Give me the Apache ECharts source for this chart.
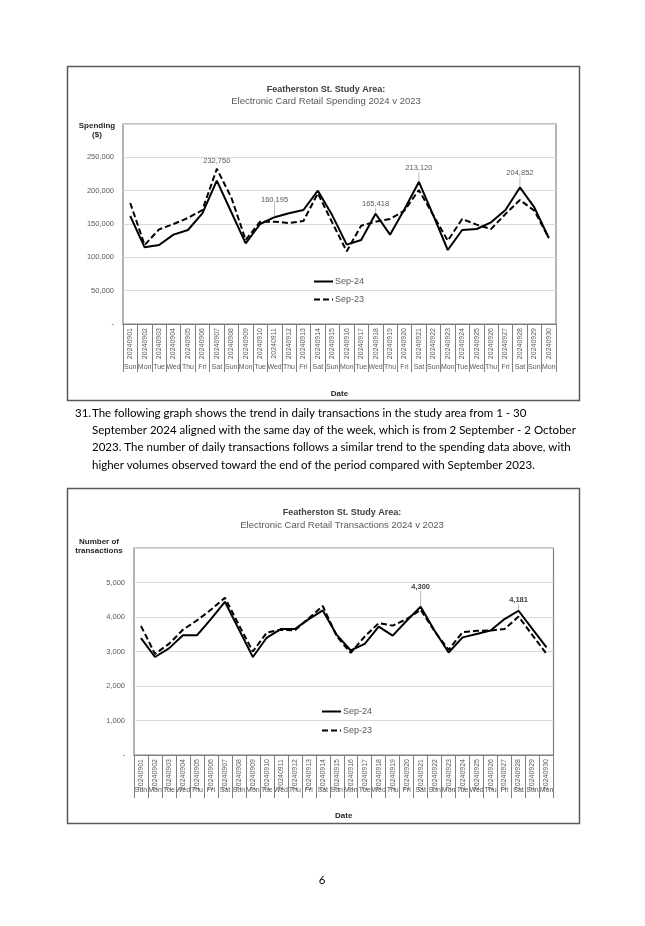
<!DOCTYPE html>
<html><head><meta charset="utf-8">
<script src="https://cdn.jsdelivr.net/npm/echarts@6/dist/echarts.min.js"></script>
<style>html,body{margin:0;padding:0;background:#fff}#c{width:645px;height:926px}</style>
</head><body><div id="c"></div>
<script>
const dates = ['20240901','20240902','20240903','20240904','20240905','20240906','20240907','20240908','20240909','20240910',
  '20240911','20240912','20240913','20240914','20240915','20240916','20240917','20240918','20240919','20240920',
  '20240921','20240922','20240923','20240924','20240925','20240926','20240927','20240928','20240929','20240930'];
const days = ['Sun','Mon','Tue','Wed','Thu','Fri','Sat','Sun','Mon','Tue','Wed','Thu','Fri','Sat','Sun',
  'Mon','Tue','Wed','Thu','Fri','Sat','Sun','Mon','Tue','Wed','Thu','Fri','Sat','Sun','Mon'];
const spend2024 = [162000,115000,118500,134000,141000,166000,215000,168000,121000,150000,
  160195,166000,171000,200000,163000,119000,126000,165418,134000,172000,
  213120,163000,111000,141000,142500,152500,171000,204852,175000,129000];
const spend2023 = [181500,118500,142000,150000,159000,171000,232750,190000,126000,153500,
  153500,151500,154500,196000,152000,109000,147500,153500,157500,170000,
  201000,163000,125000,157500,149000,142500,165000,186000,170000,129000];
const txn2024 = [3390,2840,3090,3470,3470,3940,4440,3640,2840,3405,
  3650,3650,3940,4190,3480,3030,3220,3720,3460,3890,
  4300,3600,2970,3410,3510,3610,3940,4181,3650,3120];
const txn2023 = [3740,2930,3220,3630,3900,4210,4560,3770,3000,3550,
  3630,3610,3965,4320,3440,2960,3435,3820,3750,3940,
  4210,3580,3050,3560,3600,3610,3650,4015,3470,2930];
const seriesNames = ['Sep-24','Sep-23'];
const chartTitle = 'Featherston St. Study Area:';
const subtitle1 = 'Electronic Card Retail Spending 2024 v 2023';
const subtitle2 = 'Electronic Card Retail Transactions 2024 v 2023';
const yName1 = ['Spending','($)'];
const yName2 = ['Number of','transactions'];
const xName = 'Date';
const paragraphNum = '31.';
const paragraph = [
  'The following graph shows the trend in daily transactions in the study area from 1 - 30',
  'September 2024 aligned with the same day of the week, which is from 2 September - 2 October',
  '2023. The number of daily transactions follows a similar trend to the spending data above, with',
  'higher volumes observed toward the end of the period compared with September 2023.'
];
const pageNo = '6';

const FONT = '"Liberation Sans", Arial, sans-serif';
const PFONT = 'Lato, "Open Sans", sans-serif';
const fmt = v => v === 0 ? '-' : Number(v).toLocaleString('en-US');

function withLabels(values, idx) {
  return values.map((v, i) => idx.includes(i) ? {value: v, symbol: 'circle', symbolSize: 1, label: {show: true}} : v);
}

const chart = echarts.init(document.getElementById('c'));

function xAxes(g, tickLen, dayMargin, nameGap) {
  return [
    {type: 'category', gridIndex: g, data: dates, boundaryGap: true,
     axisLine: {lineStyle: {color: '#808080', width: 1}},
     axisTick: {show: true, length: tickLen, interval: 0, lineStyle: {color: '#808080', width: 1}},
     axisLabel: {rotate: 90, margin: 4, fontSize: 7, color: '#595959', interval: 0, fontFamily: FONT}},
    {type: 'category', gridIndex: g, data: days, position: 'bottom', boundaryGap: true,
     axisLine: {show: false}, axisTick: {show: false},
     axisLabel: {margin: dayMargin, fontSize: 7, color: '#595959', interval: 0, fontFamily: FONT},
     name: xName, nameLocation: 'middle', nameGap: nameGap,
     nameTextStyle: {fontWeight: 'bold', fontSize: 8, color: '#262626', fontFamily: FONT}}
  ];
}
function yAxis(g, max, interval) {
  return {type: 'value', gridIndex: g, min: 0, max: max, interval: interval,
    axisLine: {show: false}, axisTick: {show: false},
    splitLine: {lineStyle: {color: '#d9d9d9', width: 1}},
    axisLabel: {formatter: fmt, fontSize: 7.5, color: '#595959', margin: 9, showMaxLabel: false, fontFamily: FONT}};
}
function lineSeries(name, xi, yi, data, dashed, labelIdx, offsets, bold) {
  const s = {
    name: name, type: 'line', xAxisIndex: xi, yAxisIndex: yi,
    data: withLabels(data, labelIdx), symbol: 'none', animation: false,
    lineStyle: {color: '#000', width: 2, type: dashed ? [6, 3] : 'solid'},
    itemStyle: {color: '#000'},
    label: {show: false, position: 'top', distance: 3, fontSize: 7.5,
      color: bold ? '#404040' : '#595959', fontWeight: bold ? 'bold' : 'normal',
      fontFamily: FONT, formatter: p => fmt(p.value)},
    z: dashed ? 2 : 3
  };
  if (offsets) {
    s.labelLayout = p => ({dy: offsets[p.dataIndex] || 0});
    s.labelLine = {show: true, lineStyle: {color: '#a6a6a6', width: 0.8}};
  }
  return s;
}

const textStyle = (t, x, y, font, fill, align) => ({type: 'text', x: x, y: y, silent: true,
  style: {text: t, font: font, fill: fill, align: align || 'center', verticalAlign: 'middle'}});

const graphics = [
  {type: 'rect', shape: {x: 67.5, y: 66.5, width: 512, height: 334}, style: {fill: 'none', stroke: '#595959', lineWidth: 1.5}, silent: true},
  {type: 'rect', shape: {x: 67.5, y: 488.5, width: 512, height: 335}, style: {fill: 'none', stroke: '#595959', lineWidth: 1.5}, silent: true},
  textStyle(chartTitle, 326, 90, 'bold 9px ' + FONT, '#404040'),
  textStyle(subtitle1, 326, 101, '9.5px ' + FONT, '#595959'),
  textStyle(yName1[0], 97, 126, 'bold 8px ' + FONT, '#262626'),
  textStyle(yName1[1], 97, 135, 'bold 8px ' + FONT, '#262626'),
  textStyle(chartTitle, 342, 513, 'bold 9px ' + FONT, '#404040'),
  textStyle(subtitle2, 342, 525, '9.5px ' + FONT, '#595959'),
  textStyle(yName2[0], 99, 542, 'bold 8px ' + FONT, '#262626'),
  textStyle(yName2[1], 99, 551, 'bold 8px ' + FONT, '#262626'),
  textStyle(paragraphNum, 75, 413, '11.5px ' + PFONT, '#000', 'left'),
  textStyle(pageNo, 322, 880, '11.5px ' + PFONT, '#000')
];
paragraph.forEach((line, i) => graphics.push(textStyle(line, 92, 413 + i * 17.3, '11.5px ' + PFONT, '#000', 'left')));

const legendBase = {data: seriesNames, orient: 'vertical', itemWidth: 19, itemHeight: 8, padding: 0,
  selectedMode: false, itemStyle: {opacity: 0}, textStyle: {fontSize: 9, color: '#595959', fontFamily: FONT, padding: [0, 0, 0, -3]}};

chart.setOption({
  animation: false,
  textStyle: {fontFamily: FONT},
  grid: [
    {left: 123, right: 89, top: 124, bottom: 602, show: true, borderColor: '#808080', borderWidth: 1.2, backgroundColor: 'transparent', containLabel: false},
    {left: 134, right: 91.5, top: 548, bottom: 171, show: true, borderColor: '#808080', borderWidth: 1.2, backgroundColor: 'transparent', containLabel: false}
  ],
  xAxis: [...xAxes(0, 48, 40, 66), ...xAxes(1, 43, 32, 57)],
  yAxis: [yAxis(0, 300000, 50000), yAxis(1, 6000, 1000)],
  legend: [
    Object.assign({}, legendBase, {left: 313, top: 277, itemGap: 9}),
    Object.assign({}, legendBase, {left: 321, top: 707, itemGap: 10})
  ],
  series: [
    lineSeries(seriesNames[0], 0, 0, spend2024, false, [10, 17, 20, 27], {10: -10, 17: -2, 20: -6, 27: -7}, false),
    lineSeries(seriesNames[1], 0, 0, spend2023, true, [6], null, false),
    lineSeries(seriesNames[0], 2, 1, txn2024, false, [20, 27], {20: -12, 27: -3}, true),
    lineSeries(seriesNames[1], 2, 1, txn2023, true, [], null, false)
  ],
  graphic: graphics
});
</script></body></html>
